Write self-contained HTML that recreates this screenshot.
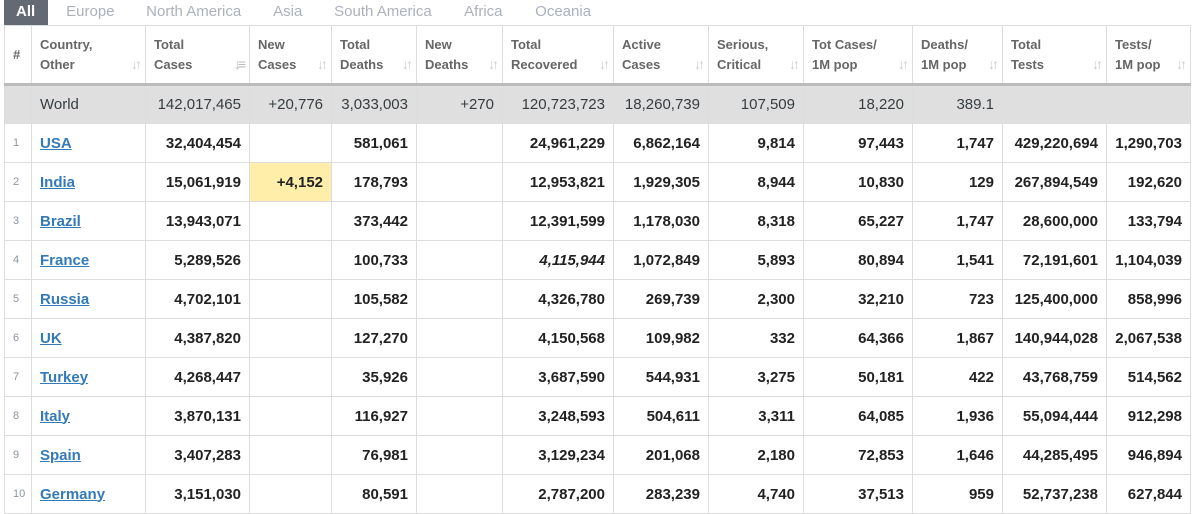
<!DOCTYPE html>
<html><head><meta charset="utf-8"><style>
body{margin:0;width:1195px;height:513px;overflow:hidden;background:#fff;font-family:"Liberation Sans",Arial,sans-serif}
.tabs{position:absolute;left:4px;top:0;height:25px;display:flex;font-size:15px}
.tab{color:#aab2bd;padding:3px 0 0;height:22px}
.tab.on{background:#636a73;color:#fff;font-weight:bold;padding:3px 13px 0 12px;margin-right:18px}
table{position:absolute;left:4px;top:25px;border-collapse:collapse;table-layout:fixed;width:1186px}
td,th{border:1px solid #ddd;padding:0 8px;font-size:15px;overflow:hidden;white-space:nowrap}
th{height:57px;text-align:left;font-size:13px;color:#666;font-weight:bold;line-height:20px;position:relative;vertical-align:middle;border-bottom:3px solid #bbb}
th .s{position:absolute;right:6px;bottom:9px;color:#ccc;font-size:14px;letter-spacing:-3px}
tr.w td{background:#dfdfdf;height:37px;color:#363c40;text-align:right}
tr.w td.n{text-align:left}
tr.r td{height:38px;text-align:right;font-weight:bold;color:#222}
tr.r td.i{font-size:11px;color:#8b95a2;font-weight:normal;text-align:left;padding-left:8px}
tr.r td.c{text-align:left}
a{color:#337ab7;text-decoration:underline}
.y{background:#ffeeaa}
.it{font-style:italic;color:#888;font-weight:bold}
</style></head><body>
<div class="tabs">
<div class="tab on">All</div>
<div class="tab" style="width:80px">Europe</div>
<div class="tab" style="width:127px">North America</div>
<div class="tab" style="width:61px">Asia</div>
<div class="tab" style="width:130px">South America</div>
<div class="tab" style="width:71px">Africa</div>
<div class="tab">Oceania</div>
</div>
<table>
<colgroup><col style="width:27px"><col style="width:114px"><col style="width:104px"><col style="width:82px"><col style="width:85px"><col style="width:86px"><col style="width:111px"><col style="width:95px"><col style="width:95px"><col style="width:109px"><col style="width:90px"><col style="width:104px"><col style="width:84px"></colgroup>
<tr>
<th>#</th>
<th>Country,<br>Other<span class="s">↓↑</span></th>
<th>Total<br>Cases<span class="s" style="color:#bbb">↓≡</span></th>
<th>New<br>Cases<span class="s">↓↑</span></th>
<th>Total<br>Deaths<span class="s">↓↑</span></th>
<th>New<br>Deaths<span class="s">↓↑</span></th>
<th>Total<br>Recovered<span class="s">↓↑</span></th>
<th>Active<br>Cases<span class="s">↓↑</span></th>
<th>Serious,<br>Critical<span class="s">↓↑</span></th>
<th>Tot&nbsp;Cases/<br>1M pop<span class="s">↓↑</span></th>
<th>Deaths/<br>1M pop<span class="s">↓↑</span></th>
<th>Total<br>Tests<span class="s">↓↑</span></th>
<th>Tests/<br>1M pop<span class="s">↓↑</span></th>
</tr>
<tr class="w"><td></td><td class="n">World</td><td>142,017,465</td><td>+20,776</td><td>3,033,003</td><td>+270</td><td>120,723,723</td><td>18,260,739</td><td>107,509</td><td>18,220</td><td>389.1</td><td></td><td></td></tr>
<tr class="r"><td class="i">1</td><td class="c"><a>USA</a></td><td>32,404,454</td><td></td><td>581,061</td><td></td><td>24,961,229</td><td>6,862,164</td><td>9,814</td><td>97,443</td><td>1,747</td><td>429,220,694</td><td>1,290,703</td></tr>
<tr class="r"><td class="i">2</td><td class="c"><a>India</a></td><td>15,061,919</td><td class="y">+4,152</td><td>178,793</td><td></td><td>12,953,821</td><td>1,929,305</td><td>8,944</td><td>10,830</td><td>129</td><td>267,894,549</td><td>192,620</td></tr>
<tr class="r"><td class="i">3</td><td class="c"><a>Brazil</a></td><td>13,943,071</td><td></td><td>373,442</td><td></td><td>12,391,599</td><td>1,178,030</td><td>8,318</td><td>65,227</td><td>1,747</td><td>28,600,000</td><td>133,794</td></tr>
<tr class="r"><td class="i">4</td><td class="c"><a>France</a></td><td>5,289,526</td><td></td><td>100,733</td><td></td><td class="it">4,115,944</td><td>1,072,849</td><td>5,893</td><td>80,894</td><td>1,541</td><td>72,191,601</td><td>1,104,039</td></tr>
<tr class="r"><td class="i">5</td><td class="c"><a>Russia</a></td><td>4,702,101</td><td></td><td>105,582</td><td></td><td>4,326,780</td><td>269,739</td><td>2,300</td><td>32,210</td><td>723</td><td>125,400,000</td><td>858,996</td></tr>
<tr class="r"><td class="i">6</td><td class="c"><a>UK</a></td><td>4,387,820</td><td></td><td>127,270</td><td></td><td>4,150,568</td><td>109,982</td><td>332</td><td>64,366</td><td>1,867</td><td>140,944,028</td><td>2,067,538</td></tr>
<tr class="r"><td class="i">7</td><td class="c"><a>Turkey</a></td><td>4,268,447</td><td></td><td>35,926</td><td></td><td>3,687,590</td><td>544,931</td><td>3,275</td><td>50,181</td><td>422</td><td>43,768,759</td><td>514,562</td></tr>
<tr class="r"><td class="i">8</td><td class="c"><a>Italy</a></td><td>3,870,131</td><td></td><td>116,927</td><td></td><td>3,248,593</td><td>504,611</td><td>3,311</td><td>64,085</td><td>1,936</td><td>55,094,444</td><td>912,298</td></tr>
<tr class="r"><td class="i">9</td><td class="c"><a>Spain</a></td><td>3,407,283</td><td></td><td>76,981</td><td></td><td>3,129,234</td><td>201,068</td><td>2,180</td><td>72,853</td><td>1,646</td><td>44,285,495</td><td>946,894</td></tr>
<tr class="r"><td class="i">10</td><td class="c"><a>Germany</a></td><td>3,151,030</td><td></td><td>80,591</td><td></td><td>2,787,200</td><td>283,239</td><td>4,740</td><td>37,513</td><td>959</td><td>52,737,238</td><td>627,844</td></tr>
</table>
</body></html>
